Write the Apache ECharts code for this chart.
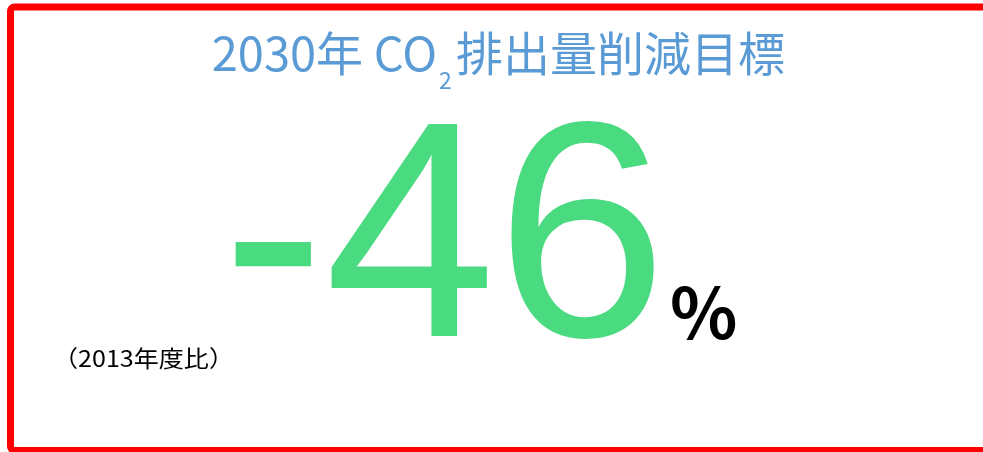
<!DOCTYPE html>
<html>
<head>
<meta charset="utf-8">
<script src="https://cdn.jsdelivr.net/npm/echarts@6/dist/echarts.min.js"></script>
<style>
  html, body { margin: 0; padding: 0; background: #ffffff; }
  #main { width: 983px; height: 452px; }
</style>
</head>
<body>
<div id="main"></div>
<script>
// KPI card: 2030 CO2 reduction target
const titleParts = ['2030年 CO', '2', '排出量削減目標'];
const targetValue = [-46];
const unitLabel = ['%'];
const baseYearNote = ['（2013年度比）'];

const chart = echarts.init(document.getElementById('main'), null, { renderer: 'canvas' });

const cjk = '"Noto Sans CJK JP", "Noto Sans CJK SC", sans-serif';
const titleColor = '#5b9bd5';

chart.setOption({
  backgroundColor: '#ffffff',
  animation: false,
  graphic: [
    {
      type: 'rect',
      shape: { x: 10.5, y: 7, width: 1000, height: 443.5, r: 4 },
      style: { fill: 'none', stroke: '#ff0000', lineWidth: 7 }
    },
    // title: "2030年 CO" + subscript "2" + remainder
    {
      type: 'text',
      x: 437,
      y: 53,
      style: {
        text: titleParts[0],
        fontFamily: cjk, fontSize: 47, fill: titleColor,
        align: 'right', verticalAlign: 'middle'
      }
    },
    {
      type: 'text',
      x: 439,
      y: 80,
      style: {
        text: titleParts[1],
        fontFamily: cjk, fontSize: 23, fill: titleColor,
        align: 'left', verticalAlign: 'middle'
      }
    },
    {
      type: 'text',
      x: 456,
      y: 53,
      style: {
        text: titleParts[2],
        fontFamily: cjk, fontSize: 47, fill: titleColor,
        align: 'left', verticalAlign: 'middle'
      }
    },
    {
      type: 'text',
      left: 222,
      top: 97,
      style: {
        text: String(targetValue[0]),
        fontFamily: '"Liberation Sans", Arial, sans-serif',
        fontSize: 308,
        fill: '#4ada80'
      }
    },
    {
      type: 'text',
      left: 670,
      top: 277,
      style: {
        text: unitLabel[0],
        fontFamily: cjk,
        fontSize: 70,
        fontWeight: 'bold',
        fill: '#000000'
      }
    },
    {
      type: 'text',
      x: 53,
      y: 347,
      scaleX: 1.09,
      style: {
        text: baseYearNote[0],
        fontFamily: cjk,
        fontSize: 23,
        fill: '#000000',
        align: 'left', verticalAlign: 'top'
      }
    }
  ]
});
</script>
</body>
</html>
